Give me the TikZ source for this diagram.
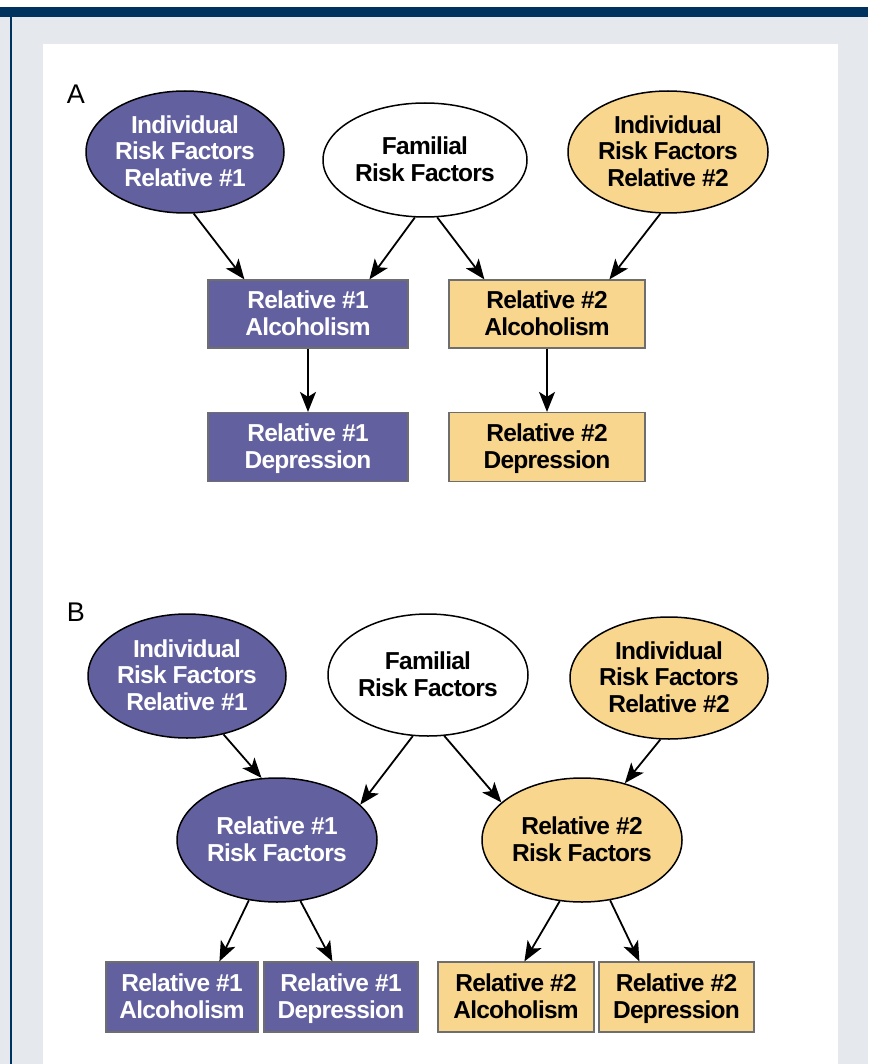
\documentclass[tikz,border=0pt]{standalone}
\usepackage{fontspec}
\setmainfont{Liberation Sans}
\newfontfamily\diagfont[LetterSpace=-3]{Liberation Sans}
\usepackage{tikz}
\usetikzlibrary{positioning,arrows.meta,shapes.geometric}
\definecolor{rfBlue}{RGB}{98,96,158}
\definecolor{rfGold}{RGB}{249,214,142}
\definecolor{rfNavy}{RGB}{0,50,96}
\definecolor{rfPanel}{RGB}{229,233,238}
\definecolor{rfEdge}{RGB}{110,110,110}

\begin{document}
\begin{tikzpicture}[x=1pt, y=-1pt,
  txt/.style={align=center, text depth=2pt, font=\diagfont\bfseries\fontsize{24.5}{26.5}\selectfont},
  oval/.style={txt, ellipse, draw=black, line width=1.5pt, inner sep=0pt, minimum width=200pt, minimum height=122pt},
  tile/.style={txt, rectangle, draw=rfEdge, line width=1.2pt, inner sep=0pt, minimum width=200pt, minimum height=68pt},
  blueset/.style={fill=rfBlue, text=white},
  goldset/.style={fill=rfGold, text=black},
  link/.style={-{Stealth[length=20pt, width=16pt, inset=5pt]}, line width=1.8pt, black},
  panel/.style={font=\fontsize{27}{30}\selectfont}]

  % frame
  \fill[white] (0,0) rectangle (868,1064);
  \fill[rfPanel] (0,7) rectangle (868,1064);
  \fill[rfNavy] (0,7) rectangle (868,17);
  \fill[rfNavy] (10,17) rectangle (11.5,1064);
  \fill[white] (43,44) rectangle (838,1064);

  % Panel A
  \node[panel] (labA) at (76,94) {A};
  \node[oval, blueset, minimum width=198pt] (irfA1) at (185,152) {Individual\\Risk Factors\\Relative \#1};
  \node[oval, fill=white, minimum width=204pt, minimum height=114pt] (famA) at (425,160) {Familial\\Risk Factors};
  \node[oval, goldset] (irfA2) at (668,152) {Individual\\Risk Factors\\Relative \#2};
  \node[tile, blueset] (alcA1) at (308,314) {Relative \#1\\Alcoholism};
  \node[tile, goldset, minimum width=196pt] (alcA2) at (547,314) {Relative \#2\\Alcoholism};
  \node[tile, blueset, minimum height=69pt] (depA1) at (308,447) {Relative \#1\\Depression};
  \node[tile, goldset, minimum width=196pt, minimum height=69pt] (depA2) at (547,447) {Relative \#2\\Depression};

  \draw[link] (irfA1.-82) -- ([xshift=37pt]alcA1.north west);
  \draw[link] (famA.-100) -- ([xshift=162pt]alcA1.north west);
  \draw[link] (famA.-78) -- ([xshift=36pt]alcA2.north west);
  \draw[link] (irfA2.-97) -- ([xshift=161pt]alcA2.north west);
  \draw[link] (alcA1) -- (depA1);
  \draw[link] (alcA2) -- (depA2);

  % Panel B
  \node[panel] (labB) at (76,612) {B};
  \node[oval, blueset, minimum width=198pt, minimum height=124pt] (irfB1) at (187,676) {Individual\\Risk Factors\\Relative \#1};
  \node[oval, fill=white] (famB) at (428,675) {Familial\\Risk Factors};
  \node[oval, goldset, minimum width=198pt] (irfB2) at (669,678) {Individual\\Risk Factors\\Relative \#2};
  \node[oval, blueset, minimum height=124pt] (rfB1) at (277,840) {Relative \#1\\Risk Factors};
  \node[oval, goldset, minimum height=124pt] (rfB2) at (582,840) {Relative \#2\\Risk Factors};
  \node[tile, blueset, minimum width=152pt, minimum height=70pt] (alcB1) at (182,997) {Relative \#1\\Alcoholism};
  \node[tile, blueset, minimum width=154pt, minimum height=70pt] (depB1) at (341,997) {Relative \#1\\Depression};
  \node[tile, goldset, minimum width=156pt, minimum height=70pt] (alcB2) at (516,997) {Relative \#2\\Alcoholism};
  \node[tile, goldset, minimum width=155pt, minimum height=70pt] (depB2) at (676.5,997) {Relative \#2\\Depression};

  \draw[link] (irfB1.-58) -- (rfB1.104);
  \draw[link] (famB.-104) -- (rfB1.23);
  \draw[link] (famB.-75) -- (rfB2.155);
  \draw[link] (irfB2.-98) -- (rfB2.53);
  \draw[link] (rfB1.-115) -- ([xshift=114pt]alcB1.north west);
  \draw[link] (rfB1.-69) -- ([xshift=69pt]depB1.north west);
  \draw[link] (rfB2.-110) -- ([xshift=87pt]alcB2.north west);
  \draw[link] (rfB2.-65) -- ([xshift=41pt]depB2.north west);
\end{tikzpicture}
\end{document}
